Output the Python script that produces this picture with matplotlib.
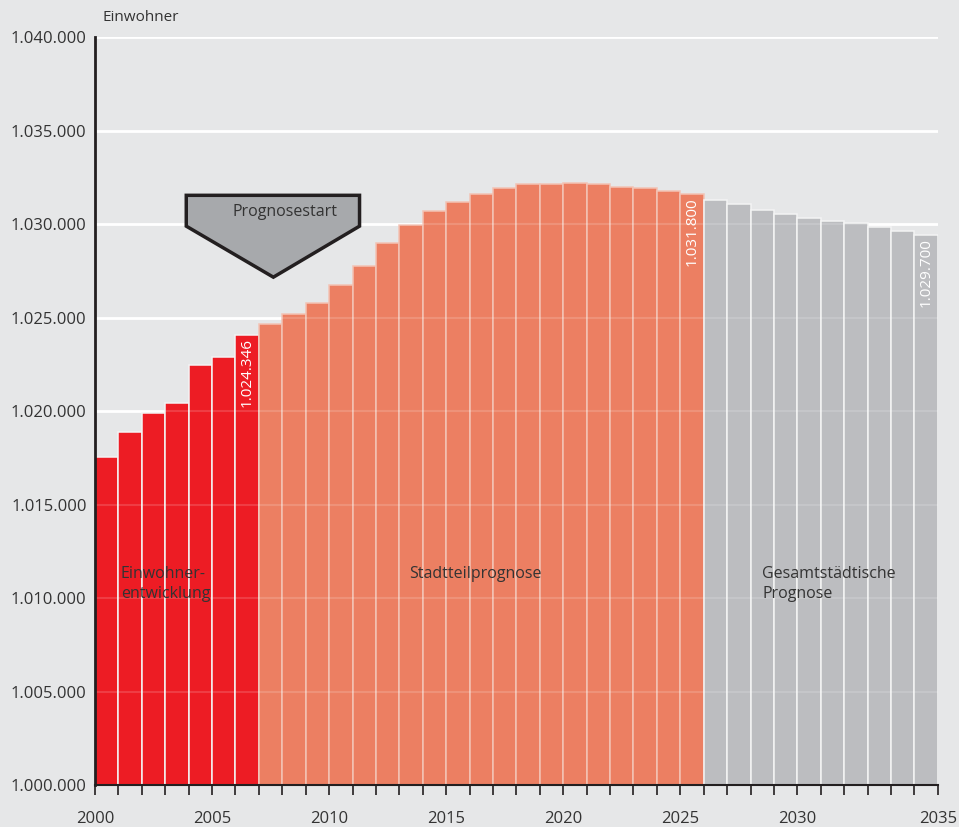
import matplotlib.pyplot as plt
from matplotlib.patches import Polygon

plt.rcParams['font.family'] = ['Open Sans', 'DejaVu Sans']

# Einwohner je Jahr
years_hist = [2000, 2001, 2002, 2003, 2004, 2005, 2006]
values_hist = [1017524, 1018861, 1019893, 1020428, 1022460, 1022888, 1024102]

years_stadt = list(range(2007, 2026))
values_stadt = [1024658, 1025193, 1025802, 1026765, 1027781, 1028990, 1029984,
                1030695, 1031193, 1031604, 1031941, 1032139, 1032139, 1032225,
                1032139, 1032011, 1031941, 1031797, 1031604]

years_gesamt = list(range(2026, 2036))
values_gesamt = [1031300, 1031086, 1030765, 1030551, 1030337, 1030176,
                 1030070, 1029856, 1029642, 1029428]

bar_labels = {2006: '1.024.346', 2025: '1.031.800', 2035: '1.029.700'}
tick_years = [2000, 2005, 2010, 2015, 2020, 2025, 2030, 2035]
y_ticks = list(range(1000000, 1040001, 5000))

bg = '#E6E7E8'
fig = plt.figure(figsize=(9.59, 8.27), dpi=100, facecolor=bg)
ax = fig.add_axes([0.099, 0.0508, 0.879, 0.904], facecolor=bg)

base = 1000000
for yrs, vals, col, edge in [(years_hist, values_hist, '#ED1C24', '#F4F4F4'),
                             (years_stadt, values_stadt, '#EC7F62', '#F3C3B5'),
                             (years_gesamt, values_gesamt, '#BCBDC0', '#F4F4F4')]:
    x = [y - 2000 for y in yrs]
    h = [v - base for v in vals]
    ax.bar(x, h, bottom=base, width=1, align='edge', color=col,
           edgecolor=edge, linewidth=1.1, zorder=2)

# Gitterlinien (hinter den Balken, leicht durchscheinend davor)
for yv in y_ticks[1:]:
    ax.axhline(yv, color='white', linewidth=2, zorder=1)
    ax.axhline(yv, color='white', linewidth=1.5, alpha=0.15, zorder=3)

# Wertebeschriftungen
all_years = years_hist + years_stadt + years_gesamt
all_vals = values_hist + values_stadt + values_gesamt
for yr, txt in bar_labels.items():
    v = all_vals[all_years.index(yr)]
    ax.text(yr - 2000 + 0.5, v - 180, txt, rotation=90, ha='center', va='top',
            color='white', fontsize=11, zorder=4)

# Bereichsbeschriftungen
ax.text(1.1, 1011700, 'Einwohner-\nentwicklung', fontsize=11.5, color='#333333',
        va='top', ha='left', linespacing=1.3, zorder=4)
ax.text(13.4, 1011700, 'Stadtteilprognose', fontsize=11.5, color='#333333',
        va='top', ha='left', zorder=4)
ax.text(28.5, 1011700, 'Gesamtstädtische\nPrognose', fontsize=11.5, color='#333333',
        va='top', ha='left', linespacing=1.3, zorder=4)

# Prognosestart-Pfeil
arrow = Polygon([(3.9, 1031550), (11.3, 1031550), (11.3, 1029900),
                 (7.62, 1027170), (3.9, 1029900)], closed=True,
                facecolor='#A7A9AC', edgecolor='#231F20', linewidth=2.5,
                zorder=5)
ax.add_patch(arrow)
ax.text(8.1, 1030650, 'Prognosestart', fontsize=11.5, color='#333333',
        ha='center', va='center', zorder=6)

ax.set_xlim(0, 36)
ax.set_ylim(1000000, 1040000)
ax.set_yticks(y_ticks)
ax.set_yticklabels([f'{v:,}'.replace(',', '.') for v in y_ticks], fontsize=12,
                   color='#333333')
ax.tick_params(axis='y', length=0, pad=6)

ax.set_xticks(range(37), minor=True)
ax.set_xticks([0, 5, 10, 15, 20, 25, 30, 36])
ax.set_xticklabels([str(y) for y in tick_years], fontsize=12, color='#333333')
ax.tick_params(axis='x', which='both', direction='out', length=7, width=1.2,
               color='#231F20', pad=12)

for s in ['top', 'right']:
    ax.spines[s].set_visible(False)
ax.spines['left'].set_linewidth(2)
ax.spines['left'].set_color('#231F20')
ax.spines['bottom'].set_linewidth(1.5)
ax.spines['bottom'].set_color('#231F20')
ax.spines['left'].set_zorder(5)

fig.text(0.107, 0.979, 'Einwohner', fontsize=11, color='#333333',
         ha='left', va='center')

fig.savefig('out.png', dpi=100, facecolor=bg)
